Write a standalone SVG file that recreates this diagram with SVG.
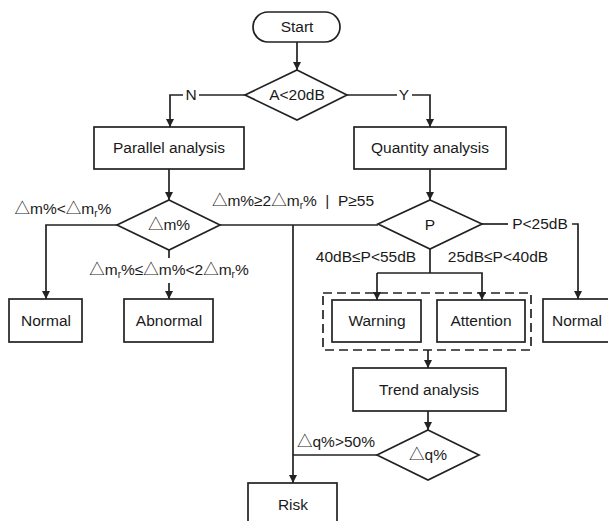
<svg xmlns="http://www.w3.org/2000/svg" width="608" height="521" viewBox="0 0 608 521">
<defs>
<marker id="ah" viewBox="0 0 10 10" refX="10" refY="5" markerWidth="8" markerHeight="8" markerUnits="userSpaceOnUse" orient="auto">
<path d="M0,0 L10,5 L0,10 z" fill="#222"/>
</marker>
<style>
.n{fill:#fff;stroke:#222;stroke-width:1.7}
.t{font-family:"Liberation Sans","Noto Sans CJK SC",sans-serif;font-size:15.5px;fill:#1a1a1a;text-anchor:middle}
.l{font-family:"Liberation Sans","Noto Sans CJK SC",sans-serif;font-size:15.5px;fill:#1a1a1a;text-anchor:middle}
.c{fill:none;stroke:#222;stroke-width:1.7}
.a{marker-end:url(#ah)}
.d{fill:none;stroke:#222;stroke-width:1.7;stroke-dasharray:9,5}
.s{font-size:10px}
</style>
</defs>
<rect width="608" height="521" fill="#fff"/>
<g id="connectors">
<path class="c a" d="M297,42 V70"/>
<path class="c" d="M245,95 H199"/>
<path class="c a" d="M183,95 H170 V127"/>
<path class="c" d="M347,95 H397"/>
<path class="c a" d="M412,95 H430 V127"/>
<path class="c a" d="M169,169 V200"/>
<path class="c a" d="M430,169 V200"/>
<path class="c a" d="M117,225 H46 V299"/>
<path class="c" d="M169,250 V258"/>
<path class="c a" d="M169,283 V299"/>
<path class="c" d="M220,225 H378"/>
<path class="c a" d="M293,225 V483"/>
<path class="c" d="M482,224 H508"/>
<path class="c a" d="M572,224 H578 V299"/>
<path class="c" d="M430,249 V273"/>
<path class="c a" d="M377,273 H482 V300"/>
<path class="c a" d="M377,273 V300"/>
<path class="c a" d="M428,350 V368"/>
<path class="c a" d="M428,411 V430"/>
<path class="c" d="M377,455 H293"/>
<rect class="d" x="323" y="293" width="208" height="57"/>
</g>
<g id="start"><rect class="n" x="253" y="12" width="87" height="30" rx="15"/><text class="t" x="297" y="32">Start</text></g>
<g id="a20"><polygon class="n" points="297,70 347,95 297,120 245,95"/><text class="t" x="297" y="100">A&lt;20dB</text></g>
<text class="l" x="191" y="100">N</text>
<text class="l" x="404" y="100">Y</text>
<g id="parallel"><rect class="n" x="94" y="127" width="150" height="42"/><text class="t" x="169" y="153">Parallel analysis</text></g>
<g id="quantity"><rect class="n" x="354" y="127" width="152" height="42"/><text class="t" x="430" y="153">Quantity analysis</text></g>
<g id="dm"><polygon class="n" points="169,200 220,225 169,250 117,225"/><text class="t" x="169" y="230">△m%</text></g>
<g id="p"><polygon class="n" points="430,200 482,224 430,249 378,224"/><text class="t" x="430" y="230">P</text></g>
<text class="l" x="63" y="214">△m%&lt;△m<tspan class="s" dy="3">r</tspan><tspan dy="-3">%</tspan></text>
<text class="l" x="293" y="206">△m%≥2△m<tspan class="s" dy="3">r</tspan><tspan dy="-3">%&#160;&#160;|&#160;&#160;P≥55</tspan></text>
<text class="l" x="169" y="275">△m<tspan class="s" dy="3">r</tspan><tspan dy="-3">%≤△m%&lt;2△m</tspan><tspan class="s" dy="3">r</tspan><tspan dy="-3">%</tspan></text>
<text class="l" x="540" y="229">P&lt;25dB</text>
<text class="l" x="366" y="262">40dB≤P&lt;55dB</text>
<text class="l" x="498" y="262">25dB≤P&lt;40dB</text>
<g id="normal1"><rect class="n" x="9" y="299" width="73" height="43"/><text class="t" x="46" y="326">Normal</text></g>
<g id="abnormal"><rect class="n" x="124" y="299" width="89" height="43"/><text class="t" x="169" y="326">Abnormal</text></g>
<g id="warning"><rect class="n" x="332" y="300" width="89" height="42"/><text class="t" x="377" y="326">Warning</text></g>
<g id="attention"><rect class="n" x="437" y="300" width="88" height="42"/><text class="t" x="481" y="326">Attention</text></g>
<g id="normal2"><rect class="n" x="543" y="299" width="70" height="43"/><text class="t" x="577" y="326">Normal</text></g>
<g id="trend"><rect class="n" x="353" y="368" width="153" height="43"/><text class="t" x="429" y="395">Trend analysis</text></g>
<g id="dq"><polygon class="n" points="428,430 479,455 428,480 377,455"/><text class="t" x="428" y="460">△q%</text></g>
<text class="l" x="336" y="447">△q%&gt;50%</text>
<g id="risk"><rect class="n" x="248" y="483" width="89" height="45"/><text class="t" x="293" y="510">Risk</text></g>
</svg>
